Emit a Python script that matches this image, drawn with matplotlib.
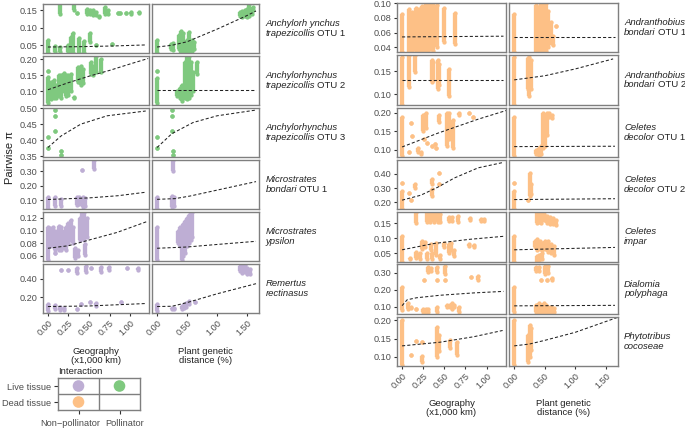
import matplotlib
matplotlib.use('Agg')
import matplotlib.pyplot as plt

plt.rcParams['font.family'] = ['Liberation Sans', 'DejaVu Sans']

GREEN = '#7FC97F'
PURPLE = '#BEAED4'
ORANGE = '#FDC086'

geo_ticks = [0.0, 0.25, 0.5, 0.75, 1.0]
plant_ticks = [0.0, 0.5, 1.0, 1.5]

# ---- data: point stacks as (x, y_low, y_high); fitted curves as (x, y) ----
anc1_geo = [(0.145, 0.140, 0.17), (0.32, 0.150, 0.17), (0.35, 0.141, 0.143), (0.48, 0.140, 0.155),
            (0.51, 0.138, 0.150), (0.55, 0.136, 0.150), (0.58, 0.136, 0.145), (0.62, 0.132, 0.134),
            (0.70, 0.138, 0.158), (0.73, 0.138, 0.150), (0.85, 0.141, 0.143), (0.88, 0.141, 0.143),
            (0.95, 0.141, 0.141), (1.01, 0.139, 0.146), (1.11, 0.142, 0.145),
            (0.0, 0.027, 0.066), (0.084, 0.032, 0.047), (0.145, 0.032, 0.045), (0.245, 0.032, 0.052),
            (0.28, 0.027, 0.075), (0.305, 0.027, 0.086), (0.377, 0.027, 0.072), (0.44, 0.027, 0.062),
            (0.51, 0.06, 0.086), (0.58, 0.052, 0.052), (0.78, 0.054, 0.054)]
anc1_geo_fit = [(0, 0.045), (0.4, 0.046), (0.8, 0.048), (1.2, 0.051)]
anc1_plant = [(0.0, 0.027, 0.066), (0.23, 0.04, 0.055), (0.27, 0.037, 0.057), (0.37, 0.04, 0.08),
              (0.40, 0.027, 0.091), (0.43, 0.03, 0.085), (0.47, 0.027, 0.06), (0.50, 0.035, 0.065),
              (0.54, 0.03, 0.089), (0.58, 0.035, 0.065), (0.62, 0.04, 0.06),
              (1.38, 0.135, 0.145), (1.42, 0.132, 0.148), (1.46, 0.133, 0.15), (1.50, 0.13, 0.155),
              (1.54, 0.135, 0.168), (1.58, 0.14, 0.155), (1.60, 0.15, 0.16)]
anc1_plant_fit = [(0, 0.045), (0.25, 0.05), (0.5, 0.06), (1.0, 0.096), (1.5, 0.135), (1.65, 0.148)]

anc2_geo = [(0.0, 0.162, 0.162), (0.0, 0.063, 0.145), (0.04, 0.075, 0.13), (0.07, 0.078, 0.136),
            (0.10, 0.08, 0.12), (0.13, 0.085, 0.15), (0.16, 0.078, 0.15), (0.19, 0.10, 0.156),
            (0.22, 0.085, 0.15), (0.25, 0.09, 0.15), (0.28, 0.10, 0.155), (0.32, 0.078, 0.082),
            (0.37, 0.13, 0.175), (0.40, 0.12, 0.18), (0.43, 0.125, 0.17), (0.52, 0.155, 0.19),
            (0.55, 0.15, 0.18), (0.58, 0.16, 0.21), (0.64, 0.16, 0.2)]
anc2_geo_fit = [(0, 0.105), (0.25, 0.127), (0.5, 0.147), (0.75, 0.165), (1.0, 0.185), (1.22, 0.202)]
anc2_plant = [(0.0, 0.162, 0.162), (0.0, 0.063, 0.14), (0.33, 0.085, 0.1), (0.38, 0.078, 0.11),
              (0.42, 0.07, 0.12), (0.46, 0.08, 0.19), (0.50, 0.075, 0.21), (0.54, 0.08, 0.21),
              (0.57, 0.09, 0.19), (0.60, 0.10, 0.16), (0.66, 0.155, 0.19)]
anc2_plant_fit = [(0, 0.105), (1.65, 0.105)]

anc3_geo = [(0.0, 0.41, 0.41), (0.0, 0.375, 0.375), (0.088, 0.494, 0.494), (0.088, 0.476, 0.476),
            (0.088, 0.427, 0.427), (0.16, 0.367, 0.367), (0.16, 0.353, 0.353)]
anc3_geo_fit = [(0, 0.377), (0.16, 0.413), (0.4, 0.45), (0.72, 0.476), (1.19, 0.491)]
anc3_plant = [(0.0, 0.41, 0.41), (0.0, 0.375, 0.375), (0.245, 0.494, 0.494), (0.245, 0.476, 0.476),
              (0.245, 0.427, 0.427), (0.26, 0.367, 0.367), (0.26, 0.353, 0.353)]
anc3_plant_fit = [(0, 0.377), (0.245, 0.42), (0.6, 0.455), (1.0, 0.476), (1.65, 0.494)]

mbo_geo = [(0.0, 0.038, 0.122), (0.088, 0.06, 0.122), (0.16, 0.06, 0.108), (0.35, 0.065, 0.122),
           (0.38, 0.07, 0.12), (0.43, 0.054, 0.122), (0.45, 0.06, 0.115), (0.42, 0.31, 0.31),
           (0.56, 0.317, 0.38)]
mbo_geo_fit = [(0, 0.104), (0.5, 0.115), (0.85, 0.13), (1.2, 0.155)]
mbo_plant = [(0.0, 0.038, 0.122), (0.25, 0.054, 0.13), (0.28, 0.06, 0.12), (0.27, 0.30, 0.38)]
mbo_plant_fit = [(0, 0.105), (0.3, 0.11), (0.55, 0.128), (1.1, 0.178), (1.65, 0.228)]

mys_geo = [(0.0, 0.053, 0.106), (0.03, 0.075, 0.104), (0.06, 0.075, 0.105), (0.088, 0.064, 0.064),
           (0.09, 0.07, 0.1), (0.13, 0.07, 0.107), (0.16, 0.069, 0.106), (0.19, 0.072, 0.10),
           (0.22, 0.07, 0.105), (0.25, 0.08, 0.112), (0.28, 0.085, 0.117), (0.30, 0.08, 0.105),
           (0.33, 0.057, 0.072), (0.36, 0.06, 0.07), (0.39, 0.085, 0.12), (0.42, 0.088, 0.128),
           (0.44, 0.085, 0.130), (0.45, 0.062, 0.078), (0.47, 0.09, 0.12)]
mys_geo_fit = [(0, 0.072), (0.25, 0.076), (0.5, 0.085), (0.84, 0.097), (1.2, 0.114)]
mys_plant = [(0.0, 0.053, 0.106), (0.35, 0.08, 0.10), (0.38, 0.075, 0.105), (0.41, 0.053, 0.09),
             (0.44, 0.06, 0.11), (0.47, 0.065, 0.115), (0.50, 0.075, 0.12), (0.53, 0.08, 0.125),
             (0.56, 0.085, 0.13), (0.59, 0.09, 0.13)]
mys_plant_fit = [(0, 0.072), (0.5, 0.074), (1.0, 0.078), (1.65, 0.083)]

rem_geo = [(0.155, 0.49, 0.49), (0.25, 0.49, 0.49), (0.35, 0.465, 0.52), (0.46, 0.47, 0.54),
           (0.53, 0.51, 0.51), (0.64, 0.47, 0.53), (0.74, 0.49, 0.53), (0.96, 0.52, 0.52),
           (1.10, 0.49, 0.52),
           (0.0, 0.045, 0.125), (0.09, 0.07, 0.115), (0.15, 0.06, 0.09), (0.2, 0.06, 0.085),
           (0.35, 0.07, 0.07), (0.40, 0.12, 0.12), (0.51, 0.145, 0.145), (0.59, 0.10, 0.135),
           (0.89, 0.143, 0.143)]
rem_geo_fit = [(0, 0.097), (0.5, 0.103), (1.2, 0.13)]
rem_plant = [(1.38, 0.48, 0.54), (1.42, 0.46, 0.55), (1.46, 0.47, 0.55), (1.50, 0.45, 0.52),
             (1.55, 0.45, 0.50),
             (0.0, 0.045, 0.125), (0.25, 0.075, 0.085), (0.28, 0.075, 0.085), (0.41, 0.07, 0.1),
             (0.45, 0.08, 0.12), (0.49, 0.09, 0.135), (0.54, 0.12, 0.16), (0.63, 0.15, 0.15)]
rem_plant_fit = [(0, 0.097), (0.25, 0.1), (0.5, 0.14), (1.0, 0.235), (1.65, 0.345)]

and1_geo = [(0.0, 0.033, 0.086), (0.08, 0.033, 0.092), (0.12, 0.035, 0.088), (0.16, 0.035, 0.094),
            (0.20, 0.035, 0.092), (0.24, 0.035, 0.097), (0.28, 0.033, 0.10), (0.31, 0.035, 0.10),
            (0.34, 0.038, 0.099), (0.37, 0.035, 0.10), (0.41, 0.04, 0.098), (0.50, 0.047, 0.093),
            (0.63, 0.044, 0.087)]
and1_geo_fit = [(0, 0.054), (1.2, 0.055)]
and1_plant = [(0.0, 0.033, 0.086), (0.36, 0.034, 0.098), (0.40, 0.033, 0.095), (0.44, 0.033, 0.10),
              (0.48, 0.035, 0.10), (0.52, 0.035, 0.10), (0.56, 0.04, 0.09), (0.60, 0.045, 0.075),
              (0.63, 0.043, 0.055), (0.68, 0.069, 0.069)]
and1_plant_fit = [(0, 0.054), (1.65, 0.054)]

and2_geo = [(0.0, 0.076, 0.181), (0.084, 0.115, 0.185), (0.15, 0.148, 0.185), (0.35, 0.126, 0.174),
            (0.37, 0.13, 0.17), (0.42, 0.111, 0.174), (0.44, 0.12, 0.165), (0.56, 0.096, 0.155)]
and2_geo_fit = [(0, 0.131), (1.2, 0.131)]
and2_plant = [(0.0, 0.076, 0.181), (0.22, 0.11, 0.18), (0.25, 0.096, 0.181), (0.27, 0.11, 0.175)]
and2_plant_fit = [(0, 0.131), (0.5, 0.14), (1.0, 0.155), (1.62, 0.177)]

cel1_geo = [(0.0, 0.084, 0.19), (0.084, 0.095, 0.095), (0.11, 0.174, 0.174), (0.12, 0.138, 0.138),
            (0.19, 0.095, 0.105), (0.22, 0.088, 0.095), (0.25, 0.15, 0.195), (0.28, 0.16, 0.20),
            (0.30, 0.12, 0.12), (0.26, 0.13, 0.13), (0.36, 0.11, 0.11), (0.39, 0.115, 0.115),
            (0.40, 0.104, 0.104), (0.44, 0.175, 0.195), (0.53, 0.11, 0.2), (0.56, 0.13, 0.2),
            (0.60, 0.105, 0.18), (0.67, 0.195, 0.2), (0.79, 0.2, 0.2), (0.84, 0.19, 0.19)]
cel1_geo_fit = [(0, 0.108), (0.42, 0.145), (0.9, 0.183), (1.24, 0.207)]
cel1_plant = [(0.0, 0.084, 0.19), (0.36, 0.088, 0.1), (0.40, 0.084, 0.105), (0.44, 0.09, 0.11),
              (0.47, 0.105, 0.20), (0.50, 0.11, 0.19), (0.53, 0.14, 0.20), (0.57, 0.19, 0.2),
              (0.62, 0.185, 0.195)]
cel1_plant_fit = [(0, 0.109), (1.65, 0.11)]

cel2_geo = [(0.0, 0.337, 0.337), (0.0, 0.153, 0.28), (0.084, 0.267, 0.267), (0.1, 0.214, 0.214),
            (0.155, 0.30, 0.33), (0.355, 0.326, 0.36), (0.355, 0.244, 0.29), (0.434, 0.407, 0.407),
            (0.434, 0.33, 0.33)]
cel2_geo_fit = [(0, 0.216), (0.22, 0.25), (0.42, 0.305), (0.62, 0.37), (0.9, 0.44), (1.2, 0.478)]
cel2_plant = [(0.0, 0.337, 0.337), (0.0, 0.153, 0.28), (0.23, 0.214, 0.214), (0.26, 0.244, 0.407),
              (0.28, 0.26, 0.33)]
cel2_plant_fit = [(0, 0.22), (1.65, 0.226)]

cim_geo = [(0.16, 0.153, 0.188), (0.30, 0.155, 0.188), (0.33, 0.155, 0.188), (0.38, 0.155, 0.188),
           (0.42, 0.155, 0.185), (0.45, 0.155, 0.18), (0.56, 0.158, 0.172), (0.59, 0.158, 0.172),
           (0.66, 0.155, 0.175), (0.80, 0.16, 0.168), (0.93, 0.158, 0.165), (0.97, 0.157, 0.165),
           (0.0, 0.023, 0.107), (0.09, 0.03, 0.035), (0.16, 0.035, 0.055), (0.21, 0.03, 0.05),
           (0.24, 0.065, 0.09), (0.27, 0.07, 0.088), (0.30, 0.03, 0.05), (0.34, 0.06, 0.08),
           (0.36, 0.03, 0.05), (0.40, 0.045, 0.085), (0.45, 0.03, 0.045), (0.50, 0.07, 0.085),
           (0.55, 0.05, 0.08), (0.58, 0.06, 0.085), (0.62, 0.04, 0.06), (0.79, 0.075, 0.08),
           (0.85, 0.073, 0.078)]
cim_geo_fit = [(0, 0.062), (0.375, 0.083), (0.8, 0.097), (1.2, 0.107)]
cim_plant = [(0.0, 0.023, 0.107), (0.37, 0.152, 0.185), (0.40, 0.155, 0.188), (0.44, 0.152, 0.185),
             (0.48, 0.16, 0.18), (0.53, 0.15, 0.175), (0.58, 0.148, 0.172), (0.63, 0.148, 0.168),
             (0.68, 0.146, 0.16), (0.34, 0.07, 0.09), (0.38, 0.062, 0.097), (0.42, 0.065, 0.09),
             (0.46, 0.06, 0.085), (0.50, 0.065, 0.09), (0.55, 0.055, 0.09), (0.60, 0.05, 0.08),
             (0.65, 0.046, 0.075), (0.37, 0.023, 0.04), (0.41, 0.023, 0.045), (0.45, 0.03, 0.05)]
cim_plant_fit = [(0, 0.062), (1.65, 0.07)]

dia_geo = [(0.0, 0.078, 0.215), (0.07, 0.088, 0.118), (0.10, 0.09, 0.1), (0.17, 0.088, 0.088),
           (0.25, 0.068, 0.088), (0.255, 0.255, 0.255), (0.28, 0.07, 0.085), (0.31, 0.068, 0.088),
           (0.31, 0.303, 0.333), (0.34, 0.31, 0.33), (0.41, 0.07, 0.1), (0.41, 0.303, 0.333),
           (0.41, 0.26, 0.26), (0.51, 0.294, 0.343), (0.51, 0.255, 0.255), (0.53, 0.098, 0.108),
           (0.57, 0.098, 0.108), (0.59, 0.088, 0.118), (0.61, 0.098, 0.108), (0.67, 0.07, 0.095),
           (0.81, 0.274, 0.274), (0.90, 0.255, 0.28)]
dia_geo_fit = [(0, 0.105), (0.06, 0.14), (0.17, 0.152), (0.45, 0.167), (0.85, 0.181), (1.2, 0.19)]
dia_plant = [(0.0, 0.068, 0.215), (0.36, 0.313, 0.333), (0.41, 0.313, 0.333), (0.51, 0.294, 0.343),
             (0.55, 0.30, 0.34), (0.44, 0.259, 0.259), (0.53, 0.259, 0.259), (0.62, 0.255, 0.27),
             (0.36, 0.07, 0.11), (0.40, 0.068, 0.12), (0.44, 0.07, 0.11), (0.48, 0.068, 0.118),
             (0.52, 0.07, 0.11), (0.56, 0.07, 0.1), (0.60, 0.068, 0.1), (0.65, 0.07, 0.09)]
dia_plant_fit = [(0, 0.104), (1.65, 0.107)]

phy_geo = [(0.0, 0.078, 0.20), (0.1, 0.104, 0.104), (0.17, 0.143, 0.143), (0.235, 0.14, 0.14),
           (0.235, 0.087, 0.102), (0.41, 0.10, 0.181), (0.44, 0.115, 0.16), (0.565, 0.123, 0.145),
           (0.645, 0.105, 0.14)]
phy_geo_fit = [(0, 0.13), (0.45, 0.14), (0.85, 0.155), (1.19, 0.172)]
phy_plant = [(0.0, 0.078, 0.20), (0.23, 0.087, 0.16), (0.26, 0.10, 0.186), (0.28, 0.12, 0.18)]
phy_plant_fit = [(0, 0.13), (0.25, 0.135), (0.5, 0.145), (1.0, 0.167), (1.68, 0.207)]

# ---- panel definitions: (line 1 italic, (line 2 italic part, line 2 upright part), ...) ----
left_block = [
    ("Anchylorh ynchus", ("trapezicollis", "OTU 1"), GREEN, (0.027, 0.168), [0.05, 0.10, 0.15],
     anc1_geo, anc1_geo_fit, anc1_plant, anc1_plant_fit),
    ("Anchylorhynchus", ("trapezicollis", "OTU 2"), GREEN, (0.057, 0.21), [0.10, 0.15, 0.20],
     anc2_geo, anc2_geo_fit, anc2_plant, anc2_plant_fit),
    ("Anchylorhynchus", ("trapezicollis", "OTU 3"), GREEN, (0.347, 0.501), [0.35, 0.40, 0.45, 0.50],
     anc3_geo, anc3_geo_fit, anc3_plant, anc3_plant_fit),
    ("Microstrates", ("bondari", "OTU 1"), PURPLE, (0.038, 0.38), [0.10, 0.20, 0.30],
     mbo_geo, mbo_geo_fit, mbo_plant, mbo_plant_fit),
    ("Microstrates", ("ypsilon", ""), PURPLE, (0.052, 0.130), [0.06, 0.08, 0.10, 0.12],
     mys_geo, mys_geo_fit, mys_plant, mys_plant_fit),
    ("Remertus", ("rectinasus", ""), PURPLE, (0.029, 0.564), [0.20, 0.40],
     rem_geo, rem_geo_fit, rem_plant, rem_plant_fit),
]
right_block = [
    ("Andranthobius", ("bondari", "OTU 1"), ORANGE, (0.0327, 0.1005), [0.04, 0.06, 0.08, 0.10],
     and1_geo, and1_geo_fit, and1_plant, and1_plant_fit),
    ("Andranthobius", ("bondari", "OTU 2"), ORANGE, (0.0765, 0.185), [0.10, 0.15],
     and2_geo, and2_geo_fit, and2_plant, and2_plant_fit),
    ("Celetes", ("decolor", "OTU 1"), ORANGE, (0.081, 0.2145), [0.10, 0.15, 0.20],
     cel1_geo, cel1_geo_fit, cel1_plant, cel1_plant_fit),
    ("Celetes", ("decolor", "OTU 2"), ORANGE, (0.153, 0.496), [0.20, 0.30, 0.40],
     cel2_geo, cel2_geo_fit, cel2_plant, cel2_plant_fit),
    ("Celetes", ("impar", ""), ORANGE, (0.023, 0.188), [0.05, 0.10, 0.15],
     cim_geo, cim_geo_fit, cim_plant, cim_plant_fit),
    ("Dialomia", ("polyphaga", ""), ORANGE, (0.057, 0.351), [0.10, 0.20, 0.30],
     dia_geo, dia_geo_fit, dia_plant, dia_plant_fit),
    ("Phytotribus", ("cocoseae", ""), ORANGE, (0.075, 0.21), [0.10, 0.15, 0.20],
     phy_geo, phy_geo_fit, phy_plant, phy_plant_fit),
]

W, H = 685, 428
fig = plt.figure(figsize=(W / 100, H / 100), dpi=100)
renderer = fig.canvas.get_renderer()

TICK_C = '#4D4D4D'
BORDER_C = '#7F7F7F'
TEXT_C = '#222222'
STRIP_FS = 6.8


def rect(x0, x1, y0, y1):
    return [x0 / W, 1 - y1 / H, (x1 - x0) / W, (y1 - y0) / H]


def style_ax(ax):
    for s in ax.spines.values():
        s.set_color(BORDER_C)
        s.set_linewidth(1.0)
        s.set_zorder(10)
    ax.tick_params(length=2.5, width=0.8, color='#333333', labelsize=6.6, labelcolor=TICK_C, pad=1.5)


def draw(ax, cols, fit, color, xlim, ylim):
    xs = [c[0] for c in cols]
    lo = [c[1] for c in cols]
    hi = [c[2] for c in cols]
    ax.vlines(xs, lo, hi, colors=color, lw=3.1, zorder=2)
    ax.scatter(xs + xs, lo + hi, s=9.6, color=color, lw=0, zorder=2)
    fx = [p[0] for p in fit]
    fy = [p[1] for p in fit]
    ax.plot(fx, fy, ls=(0, (3, 2)), color='#222222', lw=0.75, zorder=3)
    ax.set_xlim(*xlim)
    ax.set_ylim(*ylim)


def strip_line(x_px, y_px, italic_part, upright_part):
    t = fig.text(x_px / W, 1 - y_px / H, italic_part, fontsize=STRIP_FS, style='italic',
                 color=TEXT_C, va='center', ha='left')
    if upright_part:
        bb = t.get_window_extent(renderer)
        fig.text((bb.x1 + 2.4) / W, 1 - y_px / H, upright_part, fontsize=STRIP_FS,
                 color=TEXT_C, va='center', ha='left')


def block(panels, cx, top, h, gap, strip_x, xlabel_y):
    n = len(panels)
    for i, (l1, l2, color, ylim, yticks, g, gf, p, pf) in enumerate(panels):
        y0 = top + i * (h + gap)
        y1 = y0 + h
        for j, (cols, fit, xlim, xt) in enumerate([(g, gf, (-0.06, 1.23), geo_ticks),
                                                    (p, pf, (-0.085, 1.70), plant_ticks)]):
            ax = fig.add_axes(rect(cx[j][0], cx[j][1], y0, y1))
            draw(ax, cols, fit, color, xlim, ylim)
            style_ax(ax)
            if j == 0:
                ax.set_yticks(yticks)
                ax.set_yticklabels(['%.2f' % v for v in yticks])
            else:
                ax.set_yticks([])
            if i == n - 1:
                ax.set_xticks(xt)
                ax.set_xticklabels(['%.2f' % v for v in xt], rotation=45, ha='right', va='top',
                                   rotation_mode='anchor')
            else:
                ax.set_xticks([])
        yc = (y0 + y1) / 2
        strip_line(strip_x, yc - 4.9, l1, "")
        strip_line(strip_x, yc + 4.9, l2[0], l2[1])
    for (a, b), lines in zip(cx, [("Geography", "(x1,000 km)"), ("Plant genetic", "distance (%)")]):
        xc = (a + b) / 2
        fig.text(xc / W, 1 - xlabel_y / H, lines[0], fontsize=6.8, color=TEXT_C, ha='center', va='center')
        fig.text(xc / W, 1 - (xlabel_y + 9.3) / H, lines[1], fontsize=6.8, color=TEXT_C, ha='center', va='center')


block(left_block, [(43, 149), (152, 259)], 4, 49.3, 2.6, 265.5, 351)
block(right_block, [(397, 506), (509, 618)], 3, 49.46, 2.8, 624, 403)

fig.text(10 / W, 1 - 158 / H, "Pairwise π", rotation=90, fontsize=8, color=TEXT_C, ha='center', va='center')

# legend
lax = fig.add_axes(rect(58, 140, 378, 410))
lax.set_xlim(0.5, 2.5)
lax.set_ylim(0.5, 2.5)
lax.axvline(1.5, color=BORDER_C, lw=1.0)
lax.axhline(1.5, color=BORDER_C, lw=1.0)
leg_x = [1, 2, 1]
leg_y = [2, 2, 1]
leg_c = [PURPLE, GREEN, ORANGE]
lax.scatter(leg_x, leg_y, s=70, c=leg_c, lw=0)
style_ax(lax)
lax.set_xticks([1, 2])
lax.set_xticklabels(["", ""])
lax.set_yticks([2, 1])
lax.set_yticklabels(["Live tissue", "Dead tissue"])
lax.tick_params(labelsize=6.7, length=3, pad=2)
fig.text(70 / W, 1 - 423 / H, "Non\u2212pollinator", fontsize=6.7, color=TICK_C, ha='center', va='center')
fig.text(124.5 / W, 1 - 423 / H, "Pollinator", fontsize=6.7, color=TICK_C, ha='center', va='center')
fig.text(58 / W, 1 - 372 / H, "Interaction", fontsize=6.8, color=TEXT_C, ha='left', va='center')

fig.savefig('out.png', dpi=100)
